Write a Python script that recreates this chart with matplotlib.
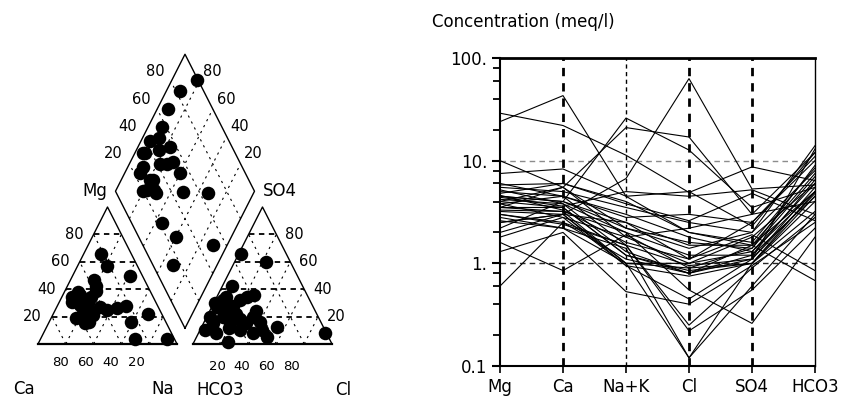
import numpy as np
import matplotlib
matplotlib.use("Agg")
import matplotlib.pyplot as plt

plt.rcParams['font.family'] = ['DejaVu Sans']

# ---------------- Piper data (percent of meq/l) ----------------
cat_mg = [66, 57, 50, 47, 38, 34.5, 39, 25, 16, 27, 26, 28, 16, 22, 4, 4,
          28.5, 21, 21, 30, 34.5, 42, 18, 23, 32, 15, 25, 36, 19, 31]
cat_na = [12, 21, 41, 17, 10, 7, 22, 22, 29, 31, 44, 49, 59, 68, 68, 91,
          16, 21, 29, 21, 21, 21, 24, 26, 15, 26, 37, 12, 18, 9]

an_so4 = [66, 60, 42, 34.5, 27, 20, 10, 15, 20, 10, 12.6, 1.7, 7.8, 32, 32,
          15, 15, 22, 20, 10, 7.8, 5, 7.8, 36, 16, 30, 34, 25, 18, 28, 12, 24]
an_cl = [1.5, 22.5, 7, 21.4, 3.5, 2.2, 3.6, 19, 33.4, 44.4, 54, 24.5, 91, 5.8,
         18, 7, 31, 20, 11.8, 28.8, 39.5, 50.5, 13, 26, 40, 0.5, 7, 12, 25,
         15, 20, 33]

dia_camg = [82, 90, 92, 90, 88, 84, 94, 89, 73, 60, 79, 73, 51, 32.5, 77, 94,
            55, 40, 10, 31.5, 78, 70, 93, 78, 69, 89, 77, 80]
dia_clso4 = [99, 83, 68, 57, 51, 46, 34, 29, 47, 53, 29, 28, 48.6, 66, 55, 43,
             21.5, 26.7, 50.7, 14.6, 23, 29, 35, 42, 52, 24, 31, 20]

grid_pct = [20, 40, 60, 80]

# ---------------- Schoeller data (meq/l) ----------------
ions = ["Mg", "Ca", "Na+K", "Cl", "SO4", "HCO3"]
mg = [24, 29, 4.5, 3.5, 2.5, 10, 7.5, 5.5, 5.0, 4.8, 4.5, 4.2, 4.0, 3.8, 3.5,
      3.3, 3.0, 2.8, 2.5, 2.2, 6.0, 5.2, 4.6, 1.8, 1.6, 0.6, 1.3, 3.2, 2.6,
      3.0, 3.5, 4.0, 2.0, 3.8, 4.4, 5.8]
ca = [43, 22, 4.0, 5.5, 3.0, 5.5, 8.3, 5.0, 4.5, 6.0, 4.0, 3.8, 5.5, 4.5, 3.5,
      3.2, 2.5, 2.2, 3.0, 4.0, 4.5, 3.8, 3.3, 2.8, 0.85, 2.5, 2.0, 3.0, 2.2,
      2.4, 3.2, 3.5, 3.0, 2.8, 3.6, 6.0]
nak = [4.5, 11.3, 26, 21, 6.7, 2.2, 4.5, 3.5, 2.8, 4.0, 2.5, 2.0, 1.8, 1.5,
       1.2, 1.0, 1.1, 1.0, 0.95, 2.2, 3.0, 1.3, 1.6, 1.8, 1.9, 1.5, 0.53, 1.0,
       1.4, 1.5, 2.0, 1.2, 2.5, 0.95, 5.0, 3.8]
cl = [2.0, 4.9, 12.7, 17, 63, 1.6, 5.0, 2.5, 3.0, 2.0, 1.5, 1.2, 1.0, 0.95,
      0.85, 0.9, 0.8, 1.0, 0.75, 1.4, 1.8, 0.8, 1.1, 2.2, 0.9, 0.25, 0.4,
      0.12, 0.12, 0.22, 0.55, 0.8, 1.1, 0.45, 4.5, 2.6]
so4 = [1.5, 8.7, 3.5, 3.0, 5.3, 1.4, 2.3, 2.0, 2.5, 1.6, 1.5, 1.2, 1.3, 1.1,
       1.0, 1.4, 1.2, 1.8, 1.0, 2.0, 1.3, 1.1, 2.5, 3.0, 1.0, 0.9, 0.95, 0.6,
       1.0, 0.55, 0.26, 1.5, 1.9, 1.1, 5.2, 4.8]
hco3 = [5.0, 6.4, 5.5, 4.0, 5.8, 9.0, 12, 14, 11, 8.5, 7.5, 6.5, 6.0, 5.5,
        5.0, 7.0, 4.5, 6.0, 4.0, 8.0, 5.0, 4.8, 10, 12, 3.2, 2.8, 2.5, 3.0,
        4.5, 2.2, 1.8, 0.68, 0.85, 13, 3.0, 2.6]

ytick_vals = [0.1, 1, 10, 100]
ytick_labels = ["0.1", "1.", "10.", "100."]
minor_vals = [0.2, 0.4, 0.6, 0.8, 2, 4, 6, 8, 20, 40, 60, 80]

# ---------------- figure ----------------
fig = plt.figure(figsize=(8.45, 4.0), dpi=100)

# ---- Piper geometry (unit side length) ----
h = np.sqrt(3) / 2
g = 0.115
an_x0 = 1 + g
Bx, By = 1 + g / 2, g * h

def cat_xy(m, n):
    m = np.asarray(m) / 100.0
    n = np.asarray(n) / 100.0
    return n + m / 2, m * h

def an_xy(s, c):
    s = np.asarray(s) / 100.0
    c = np.asarray(c) / 100.0
    return an_x0 + c + s / 2, s * h

def dia_xy(u, v):
    u = np.asarray(u) / 100.0
    v = np.asarray(v) / 100.0
    return Bx + 0.5 * (v - u), By + h * (u + v)

ax = fig.add_axes([0, 0, 420 / 845, 1])
ypx = 137 / h
ax.set_xlim(-38 / 139, (420 - 38) / 139)
ax.set_ylim(-(400 - 344) / ypx, 344 / ypx)
ax.axis('off')

lw_edge = 1.0
heavy = dict(color='black', lw=1.3, linestyle=(0, (3, 2.5)), zorder=1)
light = dict(color='black', lw=0.8, linestyle=(0, (2, 4)), zorder=1)

# cation triangle
ax.plot([0, 1, 0.5, 0], [0, 0, h, 0], color='black', lw=lw_edge, zorder=2)
ax.plot([0, 1], [0, 0], color='black', lw=1.6, zorder=2)
for k in grid_pct:
    x, y = cat_xy([k, k], [0, 100 - k])
    ax.plot(x, y, **heavy)
    x, y = cat_xy([0, 100 - k], [k, k])
    ax.plot(x, y, **light)
    x, y = cat_xy([0, 100 - k], [100 - k, 0])
    ax.plot(x, y, **light)

# anion triangle
ax.plot([an_x0, an_x0 + 1, an_x0 + 0.5, an_x0], [0, 0, h, 0], color='black', lw=lw_edge, zorder=2)
ax.plot([an_x0, an_x0 + 1], [0, 0], color='black', lw=1.6, zorder=2)
for k in grid_pct:
    x, y = an_xy([k, k], [0, 100 - k])
    ax.plot(x, y, **heavy)
    x, y = an_xy([0, 100 - k], [k, k])
    ax.plot(x, y, **light)
    x, y = an_xy([0, 100 - k], [100 - k, 0])
    ax.plot(x, y, **light)

# diamond
dx, dy = dia_xy([0, 100, 100, 0, 0], [0, 0, 100, 100, 0])
ax.plot(dx, dy, color='black', lw=lw_edge, zorder=2)
for k in grid_pct:
    x, y = dia_xy([k, k], [0, 100])
    ax.plot(x, y, **light)
    x, y = dia_xy([0, 100], [k, k])
    ax.plot(x, y, **light)

# points
ms = 95
cx, cy = cat_xy(cat_mg, cat_na)
ax.scatter(cx, cy, s=ms, color='black', zorder=3, linewidths=0)
axx, ayy = an_xy(an_so4, an_cl)
ax.scatter(axx, ayy, s=ms, color='black', zorder=3, linewidths=0)
px, py = dia_xy(dia_camg, dia_clso4)
ax.scatter(px, py, s=ms, color='black', zorder=3, linewidths=0)

# labels
fs_num = 10.5
fs_lab = 12
for k in grid_pct:
    x, y = cat_xy(k, 0)
    ax.text(x - 0.14, y, str(k), ha='center', va='center', fontsize=fs_num)
    x, y = an_xy(k, 100 - k)
    ax.text(x + 0.13, y, str(k), ha='center', va='center', fontsize=fs_num)
    ax.text(0.91 * (1 - k / 100) - 0.02, -0.114, str(k), ha='center', va='center', fontsize=9.5)
    ax.text(an_x0 + 0.89 * k / 100 - 0.002, -0.143, str(k), ha='center', va='center', fontsize=9.5)
    x, y = dia_xy(100, k)
    ax.text(x - 0.115, y + 0.063, str(k), ha='center', va='center', fontsize=fs_num)
    x, y = dia_xy(k, 100)
    ax.text(x + 0.094, y + 0.063, str(k), ha='center', va='center', fontsize=fs_num)

Lx, Ly = dia_xy(100, 0)
Rx, Ry = dia_xy(0, 100)
ax.text(Lx - 0.06, Ly, "Mg", ha='right', va='center', fontsize=fs_lab)
ax.text(Rx + 0.06, Ry, "SO4", ha='left', va='center', fontsize=fs_lab)
ax.text(-0.10, -0.284, "Ca", ha='center', va='center', fontsize=fs_lab)
ax.text(0.896, -0.284, "Na", ha='center', va='center', fontsize=fs_lab)
ax.text(1.313, -0.29, "HCO3", ha='center', va='center', fontsize=fs_lab)
ax.text(2.194, -0.29, "Cl", ha='center', va='center', fontsize=fs_lab)

# ---- Schoeller diagram ----
ax2 = fig.add_axes([500 / 845, 34 / 400, 315 / 845, 308 / 400])
xs = np.arange(len(ions))
ax2.set_yscale('log')
ax2.set_xlim(0, len(ions) - 1)
ax2.set_ylim(0.1, 100)

ax2.axhline(10, color='0.55', lw=1.0, linestyle=(0, (4, 3)), zorder=1)
ax2.axhline(1, color='0.15', lw=1.0, linestyle=(0, (4, 3)), zorder=1)
for i in range(1, len(ions) - 1):
    lw = 1.0 if ions[i] == "Na+K" else 2.0
    ax2.axvline(xs[i], color='black', lw=lw, linestyle=(0, (3, 2.5)), zorder=1)

data = np.array([mg, ca, nak, cl, so4, hco3])
for j in range(data.shape[1]):
    ax2.plot(xs, data[:, j], color='black', lw=0.8, zorder=2)

ax2.set_xticks(xs)
ax2.set_xticklabels(ions, fontsize=12)
ax2.set_yticks(ytick_vals)
ax2.set_yticklabels(ytick_labels, fontsize=12)
ax2.set_yticks(minor_vals, minor=True)
ax2.yaxis.set_minor_formatter(matplotlib.ticker.NullFormatter())
ax2.tick_params(axis='y', which='major', direction='out', length=6, width=1.5, pad=3)
ax2.tick_params(axis='y', which='minor', direction='out', length=5, width=1.3)
ax2.tick_params(axis='x', which='major', direction='out', length=5, width=1.2, pad=4)
ax2.spines['top'].set_linewidth(2.0)
ax2.spines['left'].set_linewidth(1.5)
ax2.spines['bottom'].set_linewidth(1.5)
ax2.spines['right'].set_linewidth(1.0)

fig.text(432 / 845, 1 - 22 / 400, "Concentration (meq/l)", ha='left', va='center', fontsize=12)

fig.savefig("out.png", dpi=100)
